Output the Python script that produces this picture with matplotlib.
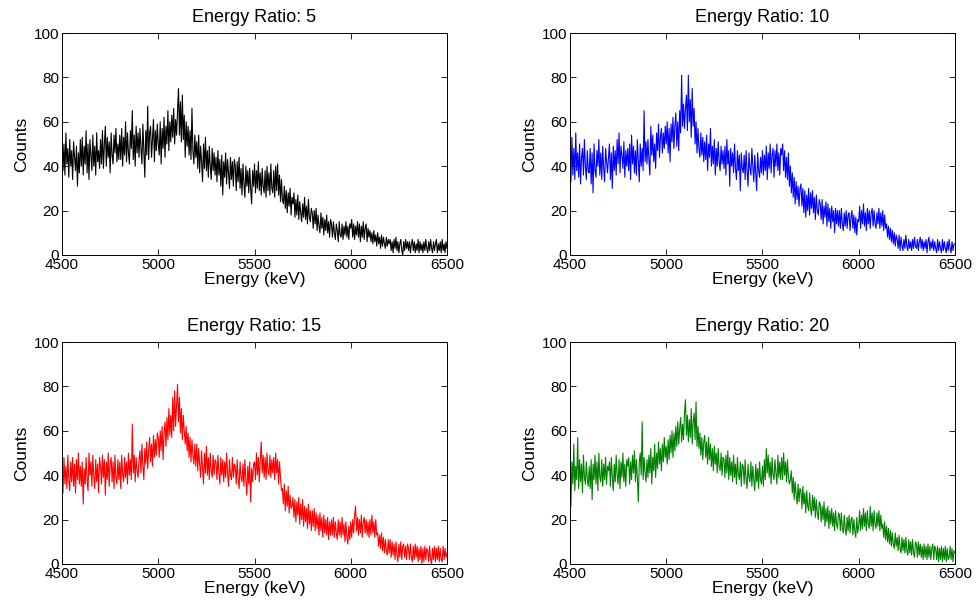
import numpy as np
import matplotlib
matplotlib.use("Agg")
import matplotlib.pyplot as plt

plt.rcParams["font.family"] = ["Liberation Sans", "DejaVu Sans"]

# Energy channels (keV), 5 keV spacing
energy_start = 4500
energy_step = 5

ratios = [5, 10, 15, 20]
colors = ["#000000", "#0000ff", "#ff0000", "#008000"]

counts_ratio_5 = [
    53, 38, 50, 36, 55, 41, 48, 35, 52, 40, 47, 34, 51, 44, 38, 49, 31, 46, 37, 52,
    40, 53, 36, 49, 41, 56, 37, 50, 34, 52, 45, 38, 54, 40, 49, 36, 55, 42, 47, 39,
    52, 41, 56, 39, 50, 58, 40, 53, 44, 51, 37, 55, 45, 41, 54, 46, 57, 42, 50, 43,
    54, 43, 57, 40, 53, 45, 60, 42, 55, 46, 41, 56, 48, 65, 43, 54, 40, 58, 46, 55,
    44, 57, 48, 41, 59, 47, 35, 56, 45, 67, 43, 55, 58, 44, 53, 61, 42, 56, 47, 59,
    50, 45, 60, 41, 57, 48, 62, 44, 58, 50, 65, 47, 60, 51, 63, 53, 66, 50, 61, 54,
    64, 75, 54, 69, 51, 72, 52, 63, 44, 60, 49, 58, 45, 56, 43, 66, 47, 41, 54, 44,
    51, 39, 54, 37, 49, 42, 33, 50, 39, 53, 38, 47, 35, 49, 40, 34, 48, 38, 46, 36,
    44, 33, 47, 36, 43, 31, 45, 27, 42, 35, 46, 32, 43, 37, 30, 44, 34, 42, 31, 43,
    40, 29, 42, 33, 44, 30, 39, 27, 41, 32, 26, 40, 31, 38, 28, 39, 30, 23, 38, 31,
    41, 28, 38, 30, 42, 29, 37, 27, 39, 31, 28, 38, 26, 40, 29, 37, 27, 41, 30, 28,
    38, 26, 40, 29, 41, 27, 36, 24, 34, 25, 23, 31, 21, 29, 19, 28, 22, 30, 18, 26,
    23, 28, 17, 25, 18, 27, 16, 24, 19, 15, 23, 17, 26, 16, 22, 14, 25, 17, 15, 21,
    19, 12, 20, 14, 21, 11, 18, 13, 10, 19, 12, 17, 9, 16, 11, 18, 10, 15, 8, 16,
    14, 8, 15, 10, 7, 14, 11, 6, 15, 9, 8, 14, 7, 13, 9, 15, 8, 13, 7, 14,
    12, 16, 8, 14, 7, 13, 9, 15, 8, 14, 6, 13, 8, 15, 7, 12, 14, 6, 12, 8,
    11, 6, 10, 5, 11, 6, 9, 4, 10, 5, 8, 3, 9, 4, 8, 5, 3, 8, 4, 7,
    5, 7, 2, 6, 1, 7, 3, 8, 2, 6, 1, 5, 7, 2, 0, 6, 2, 7, 3, 6,
    2, 6, 1, 5, 7, 2, 6, 1, 5, 2, 7, 1, 6, 2, 5, 1, 6, 2, 7, 3,
    1, 6, 2, 7, 3, 1, 6, 2, 5, 7, 1, 5, 2, 6, 1, 7, 2, 5, 1, 6,
    3,
]

counts_ratio_10 = [
    46, 33, 53, 36, 48, 34, 55, 38, 46, 35, 50, 32, 44, 48, 36, 52, 40, 34, 47, 38,
    37, 48, 32, 46, 28, 50, 38, 35, 47, 40, 52, 36, 46, 34, 49, 39, 33, 48, 42, 37,
    44, 50, 34, 46, 30, 49, 38, 47, 36, 52, 41, 55, 37, 49, 45, 39, 51, 35, 47, 40,
    48, 38, 50, 34, 54, 41, 49, 37, 47, 36, 52, 42, 33, 50, 40, 48, 38, 65, 42, 51,
    41, 52, 43, 36, 58, 45, 54, 42, 50, 39, 55, 47, 59, 44, 53, 57, 46, 55, 48, 58,
    50, 60, 46, 57, 42, 59, 51, 62, 48, 58, 64, 49, 60, 47, 65, 55, 81, 58, 68, 57,
    66, 72, 56, 81, 60, 70, 53, 75, 58, 66, 50, 60, 46, 57, 48, 44, 55, 45, 53, 42,
    51, 43, 54, 38, 50, 44, 57, 40, 49, 41, 52, 36, 48, 40, 51, 42, 38, 49, 41, 47,
    39, 49, 36, 52, 41, 47, 31, 48, 40, 46, 37, 50, 39, 34, 47, 38, 45, 29, 46, 39,
    37, 45, 34, 47, 38, 31, 46, 39, 36, 48, 40, 33, 45, 37, 29, 46, 38, 35, 44, 37,
    47, 36, 45, 38, 49, 34, 46, 39, 50, 37, 45, 48, 35, 47, 40, 50, 38, 46, 36, 48,
    45, 50, 38, 47, 35, 44, 34, 46, 31, 40, 28, 37, 26, 35, 23, 33, 25, 31, 22, 30,
    32, 22, 30, 19, 29, 17, 27, 20, 30, 18, 28, 21, 29, 19, 26, 16, 27, 20, 18, 25,
    23, 16, 25, 14, 22, 17, 24, 13, 23, 15, 21, 12, 22, 15, 20, 10, 21, 14, 20, 13,
    20, 12, 21, 14, 11, 19, 13, 20, 12, 18, 19, 11, 17, 20, 12, 18, 10, 17, 9, 16,
    15, 22, 12, 20, 14, 23, 13, 19, 11, 21, 14, 20, 12, 19, 21, 13, 20, 14, 12, 19,
    14, 21, 12, 19, 13, 20, 11, 18, 12, 14, 8, 13, 7, 12, 6, 11, 5, 10, 4, 9,
    7, 3, 9, 2, 8, 4, 2, 7, 3, 9, 4, 2, 7, 3, 6, 2, 7, 3, 8, 4,
    3, 7, 2, 6, 8, 3, 7, 2, 6, 3, 7, 1, 6, 8, 2, 6, 3, 7, 2, 6,
    3, 1, 7, 2, 6, 3, 1, 7, 2, 6, 3, 1, 6, 2, 7, 3, 1, 6, 2, 5,
    5,
]

counts_ratio_15 = [
    46, 32, 48, 36, 44, 34, 49, 38, 33, 46, 37, 48, 35, 45, 32, 47, 38, 50, 36, 44,
    35, 46, 27, 43, 36, 48, 38, 33, 50, 40, 46, 35, 49, 39, 34, 47, 37, 45, 32, 48,
    44, 36, 49, 39, 47, 31, 46, 38, 50, 35, 45, 48, 37, 46, 34, 49, 39, 36, 47, 38,
    46, 34, 49, 40, 37, 48, 39, 46, 36, 50, 40, 47, 38, 63, 41, 49, 37, 48, 42, 39,
    47, 51, 41, 54, 44, 38, 52, 45, 55, 43, 51, 57, 46, 54, 44, 58, 48, 56, 49, 59,
    57, 48, 60, 51, 62, 47, 59, 64, 53, 66, 56, 70, 58, 67, 57, 75, 60, 78, 62, 72,
    81, 64, 75, 59, 70, 56, 67, 60, 54, 62, 51, 59, 48, 57, 46, 56, 49, 45, 54, 44,
    54, 42, 52, 45, 39, 51, 43, 36, 50, 41, 53, 40, 48, 38, 50, 42, 39, 49, 40, 47,
    46, 38, 49, 41, 36, 48, 40, 47, 37, 46, 39, 50, 41, 35, 47, 40, 38, 48, 39, 45,
    44, 36, 47, 38, 34, 46, 39, 37, 45, 35, 47, 38, 31, 44, 36, 46, 28, 43, 37, 45,
    46, 38, 50, 40, 48, 37, 47, 55, 41, 49, 39, 48, 38, 50, 42, 40, 49, 39, 47, 41,
    48, 38, 50, 41, 47, 36, 46, 39, 33, 34, 27, 36, 24, 33, 26, 35, 23, 31, 25, 26,
    30, 21, 29, 19, 28, 22, 30, 18, 27, 20, 29, 17, 26, 19, 25, 16, 27, 18, 24, 15,
    24, 17, 25, 15, 23, 16, 22, 13, 23, 15, 21, 12, 22, 14, 20, 13, 21, 11, 19, 13,
    20, 13, 21, 12, 19, 14, 11, 20, 13, 19, 12, 21, 13, 18, 10, 19, 12, 9, 17, 11,
    19, 12, 20, 14, 22, 26, 15, 21, 13, 20, 14, 22, 12, 19, 21, 14, 20, 13, 19, 12,
    20, 13, 22, 14, 19, 12, 20, 13, 14, 8, 13, 7, 14, 6, 12, 5, 11, 6, 4, 11,
    5, 11, 3, 10, 4, 9, 2, 10, 4, 1, 9, 3, 10, 2, 8, 9, 3, 8, 2, 9,
    7, 2, 9, 3, 1, 8, 2, 9, 3, 8, 1, 7, 2, 8, 0, 7, 1, 8, 2, 7,
    6, 1, 8, 2, 0, 7, 2, 8, 1, 7, 2, 8, 1, 7, 2, 1, 8, 2, 7, 3,
    5,
]

counts_ratio_20 = [
    48, 26, 46, 36, 54, 33, 44, 38, 57, 34, 47, 37, 45, 32, 49, 39, 36, 46, 38, 35,
    44, 34, 47, 29, 45, 38, 49, 36, 46, 33, 50, 39, 37, 47, 35, 45, 38, 48, 36, 44,
    42, 46, 35, 48, 39, 33, 45, 37, 49, 40, 36, 47, 34, 46, 39, 50, 37, 45, 35, 47,
    44, 48, 36, 46, 38, 49, 41, 51, 37, 47, 39, 28, 46, 50, 40, 64, 38, 48, 41, 37,
    47, 39, 49, 41, 52, 36, 48, 42, 54, 39, 50, 43, 55, 45, 52, 42, 54, 46, 57, 48,
    53, 45, 56, 47, 58, 50, 60, 48, 59, 51, 62, 53, 64, 54, 61, 66, 55, 63, 56, 68,
    74, 58, 67, 55, 65, 57, 70, 54, 64, 68, 56, 73, 53, 62, 52, 59, 49, 57, 47, 55,
    58, 48, 55, 45, 57, 47, 54, 44, 52, 42, 53, 45, 50, 41, 52, 44, 42, 50, 40, 48,
    47, 39, 49, 41, 51, 38, 48, 40, 46, 37, 49, 39, 45, 36, 48, 40, 38, 46, 35, 45,
    44, 36, 47, 38, 34, 45, 39, 37, 46, 35, 44, 38, 33, 45, 37, 43, 34, 46, 38, 36,
    44, 35, 47, 38, 52, 41, 49, 39, 46, 36, 48, 40, 38, 47, 41, 36, 49, 39, 46, 38,
    48, 38, 50, 40, 46, 37, 47, 39, 36, 38, 42, 32, 39, 29, 37, 31, 27, 36, 28, 34,
    33, 25, 35, 27, 32, 23, 33, 26, 24, 32, 25, 22, 31, 24, 30, 21, 29, 23, 20, 28,
    27, 19, 26, 20, 28, 17, 25, 19, 26, 16, 24, 18, 25, 17, 23, 15, 24, 18, 16, 23,
    22, 15, 23, 16, 14, 22, 16, 13, 21, 15, 22, 14, 20, 21, 13, 20, 15, 12, 21, 14,
    17, 24, 15, 22, 16, 25, 17, 23, 15, 24, 18, 16, 26, 17, 23, 15, 24, 18, 16, 23,
    17, 24, 15, 22, 16, 18, 12, 19, 11, 17, 10, 16, 9, 15, 8, 14, 9, 7, 14, 8,
    12, 6, 13, 7, 5, 12, 6, 11, 5, 12, 6, 4, 11, 5, 10, 4, 11, 5, 3, 10,
    9, 3, 10, 4, 9, 3, 8, 2, 9, 3, 8, 2, 9, 3, 8, 2, 7, 9, 2, 8,
    7, 2, 8, 1, 7, 2, 8, 1, 7, 2, 8, 1, 7, 2, 3, 8, 2, 7, 1, 6,
    5,
]

x_ticks = [4500, 5000, 5500, 6000, 6500]
y_ticks = [0, 20, 40, 60, 80, 100]

series = [counts_ratio_5, counts_ratio_10, counts_ratio_15, counts_ratio_20]

fig = plt.figure(figsize=(9.77, 6.09), dpi=100)
fig.patch.set_facecolor("white")

# panel rectangles in figure fractions: [left, bottom, width, height]
lefts = [0.0635, 0.5834]
bottoms = [0.5813, 0.0739]
width = 0.394
height = 0.3645

for i, (ratio, col, counts) in enumerate(zip(ratios, colors, series)):
    row, colidx = divmod(i, 2)
    ax = fig.add_axes([lefts[colidx], bottoms[row], width, height])
    energy = energy_start + energy_step * np.arange(len(counts))
    ax.plot(energy, counts, color=col, linewidth=0.8)
    ax.set_xlim(4500, 6500)
    ax.set_ylim(0, 100)
    ax.set_xticks(x_ticks)
    ax.set_yticks(y_ticks)
    ax.tick_params(direction="in", top=True, right=True, length=4,
                   width=0.6, labelsize=11, pad=2)
    for sp in ax.spines.values():
        sp.set_linewidth(0.7)
    ax.set_xlabel("Energy (keV)", fontsize=12.5, labelpad=0)
    ax.set_ylabel("Counts", fontsize=12.5, labelpad=3)
    ax.set_title(f"Energy Ratio: {ratio}", fontsize=13, pad=8)

fig.savefig("out.png", dpi=100, facecolor="white")
